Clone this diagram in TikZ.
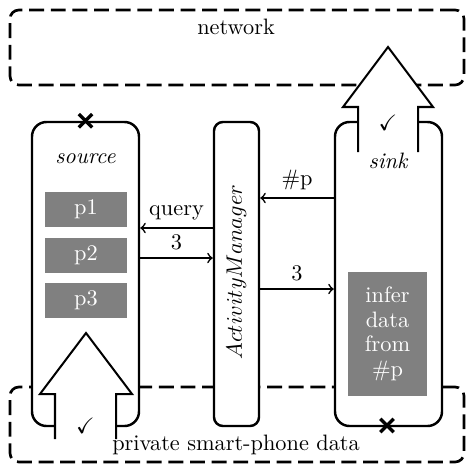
\documentclass[tikz,border=0pt]{standalone}
\usepackage{amssymb}
\usetikzlibrary{shapes.misc}
\def\pxu{0.4484pt}
\begin{document}
\begin{tikzpicture}[x=0.4484pt,y=-0.4484pt,
  region/.style={draw, dash pattern=on 6.7pt off 3pt, line width=1.2pt, rounded corners=4pt,
    minimum width=454*\pxu, minimum height=75*\pxu, inner sep=0pt},
  comp/.style={draw, fill=white, line width=1.1pt, rounded corners=6.5pt,
    minimum width=107*\pxu, minimum height=304*\pxu, inner sep=0pt},
  mgr/.style={draw, fill=white, line width=1.1pt, rounded corners=4pt,
    minimum width=45*\pxu, minimum height=304*\pxu, inner sep=0pt},
  perm/.style={fill=gray, text=white, minimum width=82*\pxu, minimum height=35*\pxu, inner sep=0pt},
  infer/.style={fill=gray, text=white, minimum width=79*\pxu, minimum height=124*\pxu, inner sep=0pt, align=center},
  msg/.style={->, line width=0.75pt},
  bigarrow/.style={draw, fill=white, line width=0.9pt, line join=miter},
  xmark/.style={cross out, draw, line width=1.5pt, minimum size=10*\pxu, inner sep=0pt},
]
\useasboundingbox (0,0) rectangle (468,463);
% regions
\node[region] (net) at (237,47.5) {};
\node[region] (priv) at (237,424.5) {};
\node (netlbl) at (236,27) {network};
% components
\node[comp] (src) at (85.5,274) {};
\node[mgr] (am) at (236.5,274) {};
\node[comp] (sink) at (388.5,274) {};
\node[rotate=90] (amlbl) at (236.5,272) {$ActivityManager$};
% permissions
\node[perm] (p1) at (86,209.5) {p1};
\node[perm] (p2) at (86,255) {p2};
\node[perm] (p3) at (86,300.5) {p3};
\node[infer] (inf) at (387.5,334) {infer\\[-1pt]data\\[-1pt]from\\[-1pt]\#p};
% messages
\draw[msg] (am.west |- 0,228) -- node[above] {query} (src.east |- 0,228);
\draw[msg] (src.east |- 0,258) -- node[above] {3} (am.west |- 0,258);
\draw[msg] (sink.west |- 0,198) -- node[above] {\#p} (am.east |- 0,198);
\draw[msg] (am.east |- 0,289) -- node[above] {3} (sink.west |- 0,289);
% big arrows
\draw[bigarrow] (358,152) -- (358,107) -- (343,107) -- (388,47) -- (433,107) -- (418,107) -- (418,152);
\draw[bigarrow] (55,439) -- (55,394) -- (40,394) -- (86,333) -- (132,394) -- (116,394) -- (116,439);
% marks
\node[xmark] (x1) at (src.north) {};
\node[xmark] (x2) at (387,425.5) {};
\node (c1) at (388,123) {$\checkmark$};
\node (c2) at (85.5,426) {$\checkmark$};
% labels
\node (srclbl) at (85.5,159) {\textit{source}};
\node (sinklbl) at (388.5,161) {\textit{sink}};
\node (privlbl) at (236,445) {private smart-phone data};
\end{tikzpicture}
\end{document}
